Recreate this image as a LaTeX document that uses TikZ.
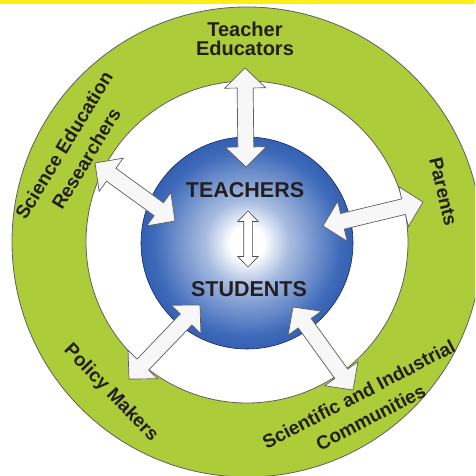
\documentclass[tikz,border=0pt]{standalone}
\usepackage{fontspec}
\setmainfont{Liberation Sans}
\usetikzlibrary{calc}

\definecolor{ringgreen}{RGB}{172,204,58}
\definecolor{bandyellow}{RGB}{255,238,20}
\definecolor{ballmid}{RGB}{62,106,186}
\definecolor{balledge}{RGB}{22,58,142}
\definecolor{inkdark}{RGB}{35,31,32}
\definecolor{edgegray}{RGB}{95,95,95}

\pgfdeclareradialshading{ballshade}{\pgfpoint{0bp}{0bp}}{color(0bp)=(white);
  color(4bp)=(white); color(10bp)=(ballmid!45!white); color(22bp)=(ballmid);
  color(37bp)=(balledge); color(50bp)=(balledge)}

\newcommand{\hubfont}{\fontsize{21.5}{24}\selectfont\bfseries}

\tikzset{ring/.style={draw=edgegray,line width=0.8pt},
         blockarrow/.style={draw=edgegray,fill=white!97!black,
                            line width=0.7pt,line join=miter},
         midarrow/.style={draw=inkdark!80,fill=white,line width=0.6pt},
         hub/.style={font=\hubfont,text=inkdark,inner sep=0pt},
         ringlabel/.style={font=\fontsize{19}{26}\selectfont\bfseries,
                           text=inkdark,align=center,inner sep=0pt}}

\begin{document}
\begin{tikzpicture}[x=1pt,y=1pt]
    \newcommand{\dblarrow}[6][blockarrow]{%
      \filldraw[#1] (#2)
        -- ($(#2)!#4!(#3)!#5!90:(#3)$) -- ($(#2)!#4!(#3)!#6!90:(#3)$)
        -- ($(#3)!#4!(#2)!#6!-90:(#2)$) -- ($(#3)!#4!(#2)!#5!-90:(#2)$)
        -- (#3)
        -- ($(#3)!#4!(#2)!#5!90:(#2)$) -- ($(#3)!#4!(#2)!#6!90:(#2)$)
        -- ($(#2)!#4!(#3)!#6!-90:(#3)$) -- ($(#2)!#4!(#3)!#5!-90:(#3)$)
        -- cycle;}
    \useasboundingbox (-247,-234) rectangle (228,242);
    \clip (-247,-234) rectangle (228,242);
    \fill[bandyellow] (-247,238) rectangle (228,242);

    % rings and hub
    \filldraw[ring,fill=ringgreen] (0,0) circle[radius=235pt];
    \filldraw[ring,fill=white] (0,0) circle[radius=161pt];
    \shadedraw[shading=ballshade,draw=balledge!70!black,line width=0.6pt]
      (0,-1) circle[radius=106pt];

    % arrow ends
    \coordinate (edu-in)  at (-1,75);    \coordinate (edu-out) at (-2,174);
    \coordinate (res-in)  at (-72,21);   \coordinate (res-out) at (-152,79);
    \coordinate (par-in)  at (76,16);    \coordinate (par-out) at (176,40);
    \coordinate (pol-in)  at (-47,-63);  \coordinate (pol-out) at (-118,-137);
    \coordinate (com-in)  at (46,-65);   \coordinate (com-out) at (106,-148);
    \coordinate (mid-top) at (1,31);     \coordinate (mid-bot) at (1,-25);

    \dblarrow{edu-in}{edu-out}{20pt}{20.5pt}{8pt}
    \dblarrow{res-in}{res-out}{20pt}{20.5pt}{8pt}
    \dblarrow{par-in}{par-out}{20pt}{20.5pt}{8pt}
    \dblarrow{pol-in}{pol-out}{20pt}{20.5pt}{8pt}
    \dblarrow{com-in}{com-out}{20pt}{20.5pt}{8pt}
    \dblarrow[midarrow]{mid-top}{mid-bot}{10.5pt}{10.3pt}{4.3pt}

    \node[hub] (teachers) at (-2,52) {TEACHERS};
    \node[hub] (students) at (2,-47) {STUDENTS};
    \node[font=\fontsize{20}{19}\selectfont\bfseries,text=inkdark,
          align=center,inner sep=0pt] (educators) at (-2,203)
          {Teacher\\Educators};

    % ring labels
    \node[ringlabel,rotate=58.6] (researchers) at (-172,90)
      {Science Education\\Researchers};
    \node[ringlabel,rotate=-76.8] (parents) at (196.3,50.3) {Parents};
    \node[ringlabel,rotate=-46.1] (policy) at (-136.2,-151.2) {Policy Makers};
    \node[ringlabel,rotate=27.5] (industry) at (117.7,-163.7)
      {Scientific and Industrial\\Communities};
\end{tikzpicture}
\end{document}
